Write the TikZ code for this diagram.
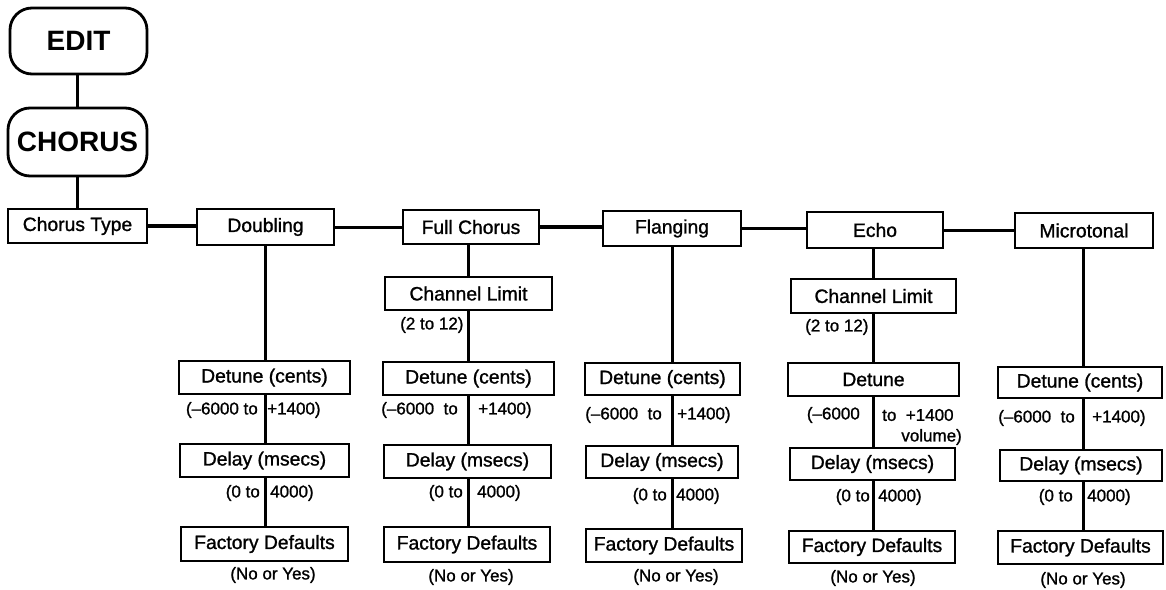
\documentclass[tikz,border=0pt]{standalone}
\usepackage{fontspec}
\setmainfont{Liberation Sans}
\newfontfamily\medsans{Liberation Sans}[FakeBold=1.2]
\tikzset{
 box/.style={draw, line width=2.6pt, inner sep=0pt, font=\medsans\fontsize{19.3}{22}\selectfont},
 rbox/.style={draw, line width=2.8pt, rounded corners=22pt, inner sep=0pt, font=\bfseries\fontsize{28}{32}\selectfont},
 lbl/.style={inner sep=0pt, font=\medsans\fontsize{17}{19}\selectfont},
 conn/.style={line width=3pt},
 heavyconn/.style={line width=4.5pt},
}
\newcommand\mybox[6]{\node[box, minimum width=#4pt, minimum height=#5pt] (#1) at (#2,#3) {#6};}
\begin{document}
\begin{tikzpicture}[x=1pt,y=-1pt]
\useasboundingbox (0,0) rectangle (1166,589);
% top
\node[rbox, minimum width=137pt, minimum height=66pt] (edit) at (78.5,41) {EDIT};
\node[rbox, minimum width=139pt, minimum height=68pt] (chorus) at (77.5,142) {CHORUS};
\mybox{ctype}{77.5}{226}{139}{34}{Chorus Type}
% types
\mybox{dbl}{265.5}{227}{137}{36}{Doubling}
\mybox{fch}{471}{227}{136}{34}{Full Chorus}
\mybox{flg}{672}{228.5}{138}{35}{Flanging}
\mybox{ech}{875}{230}{136}{36}{Echo}
\mybox{mic}{1084}{230.5}{138}{35}{Microtonal}
% channel limits
\mybox{fchcl}{468.5}{293.5}{167}{33}{Channel Limit}
\mybox{echcl}{873.5}{296}{165}{34}{Channel Limit}
% detune row
\mybox{dt1}{264.5}{377.5}{171}{33}{Detune (cents)}
\mybox{dt2}{468.5}{378.5}{171}{33}{Detune (cents)}
\mybox{dt3}{662.5}{379}{155}{32}{Detune (cents)}
\mybox{dt4}{873.5}{379.5}{171}{33}{Detune}
\mybox{dt5}{1080}{382.5}{164}{31}{Detune (cents)}
% delay row
\mybox{dl1}{264.5}{460.5}{169}{33}{Delay (msecs)}
\mybox{dl2}{467.5}{461.5}{167}{33}{Delay (msecs)}
\mybox{dl3}{662}{462}{152}{32}{Delay (msecs)}
\mybox{dl4}{872.5}{464}{165}{32}{Delay (msecs)}
\mybox{dl5}{1081}{465.5}{162}{31}{Delay (msecs)}
% factory row
\mybox{fd1}{264.5}{544}{167}{34}{Factory Defaults}
\mybox{fd2}{467}{544.5}{166}{35}{Factory Defaults}
\mybox{fd3}{664}{545.5}{156}{33}{Factory Defaults}
\mybox{fd4}{872}{547}{166}{32}{Factory Defaults}
\mybox{fd5}{1080.5}{547.5}{165}{33}{Factory Defaults}
% connectors top
\draw[conn] (edit.south -| chorus) -- (chorus.north);
\draw[conn] (chorus.south) -- (ctype.north -| chorus);
\draw[heavyconn] (ctype.east) -- (ctype.east -| dbl.west);
\draw[conn] (dbl.east) -- (dbl.east -| fch.west);
\draw[heavyconn] (fch.east) -- (fch.east -| flg.west);
\draw[conn] (flg.east) -- (flg.east -| ech.west);
\draw[conn] (ech.east) -- (ech.east -| mic.west);
% doubling column
\draw[conn] (dbl.south) -- (dbl.south |- dt1.north);
\draw[conn] (dt1.south -| dbl) -- (dl1.north -| dbl);
\draw[conn] (dl1.south -| dbl) -- (fd1.north -| dbl);
% full chorus column
\draw[conn] (fch.south -| fchcl) -- (fchcl.north);
\draw[conn] (fchcl.south) -- (dt2.north -| fchcl);
\draw[conn] (dt2.south -| fchcl) -- (dl2.north -| fchcl);
\draw[conn] (dl2.south -| fchcl) -- (fd2.north -| fchcl);
% flanging column
\draw[conn] (flg.south) -- (flg.south |- dt3.north);
\draw[conn] (dt3.south -| flg) -- (dl3.north -| flg);
\draw[conn] (dl3.south -| flg) -- (fd3.north -| flg);
% echo column
\draw[conn] (ech.south -| echcl) -- (echcl.north);
\draw[conn] (echcl.south) -- (dt4.north -| echcl);
\draw[conn] (dt4.south -| echcl) -- (dl4.north -| echcl);
\draw[conn] (dl4.south -| echcl) -- (fd4.north -| echcl);
% microtonal column
\draw[conn] (mic.south -| 1083,0) -- (dt5.north -| 1083,0);
\draw[conn] (dt5.south -| 1083,0) -- (dl5.north -| 1083,0);
\draw[conn] (dl5.south -| 1083,0) -- (fd5.north -| 1083,0);
% labels channel limit
\node[lbl, anchor=west] (fchr) at (400,325) {(2 to 12)};
\node[lbl, anchor=west] (echr) at (805,327) {(2 to 12)};
% detune labels
\node[lbl, anchor=east] (d1a) at (258,410) {(–6000 to};
\node[lbl, anchor=west] (d1b) at (267,410) {+1400)};
\node[lbl, anchor=east] (d2a) at (458,410) {(–6000\ \ to};
\node[lbl, anchor=west] (d2b) at (478,410) {+1400)};
\node[lbl, anchor=east] (d3a) at (662,415) {(–6000\ \ to};
\node[lbl, anchor=west] (d3b) at (677,415) {+1400)};
\node[lbl, anchor=east] (d4a) at (860,415) {(–6000};
\node[lbl, anchor=west] (d4b) at (882,415) {to\ \ +1400};
\node[lbl, anchor=east] (d4c) at (962,437) {volume)};
\node[lbl, anchor=east] (d5a) at (1075,418) {(–6000\ \ to};
\node[lbl, anchor=west] (d5b) at (1092,418) {+1400)};
% delay labels
\node[lbl, anchor=east] (l1a) at (260,493) {(0 to};
\node[lbl, anchor=west] (l1b) at (270,493) {4000)};
\node[lbl, anchor=east] (l2a) at (463,493) {(0 to};
\node[lbl, anchor=west] (l2b) at (477,493) {4000)};
\node[lbl, anchor=east] (l3a) at (667,496) {(0 to};
\node[lbl, anchor=west] (l3b) at (676,496) {4000)};
\node[lbl, anchor=east] (l4a) at (870,497) {(0 to};
\node[lbl, anchor=west] (l4b) at (878,497) {4000)};
\node[lbl, anchor=east] (l5a) at (1073,497) {(0 to};
\node[lbl, anchor=west] (l5b) at (1087,497) {4000)};
% factory labels
\node[lbl] (y1) at (273,575) {(No or Yes)};
\node[lbl] (y2) at (471,577) {(No or Yes)};
\node[lbl] (y3) at (676,577) {(No or Yes)};
\node[lbl] (y4) at (873,578) {(No or Yes)};
\node[lbl] (y5) at (1083,580) {(No or Yes)};
\end{tikzpicture}
\end{document}
